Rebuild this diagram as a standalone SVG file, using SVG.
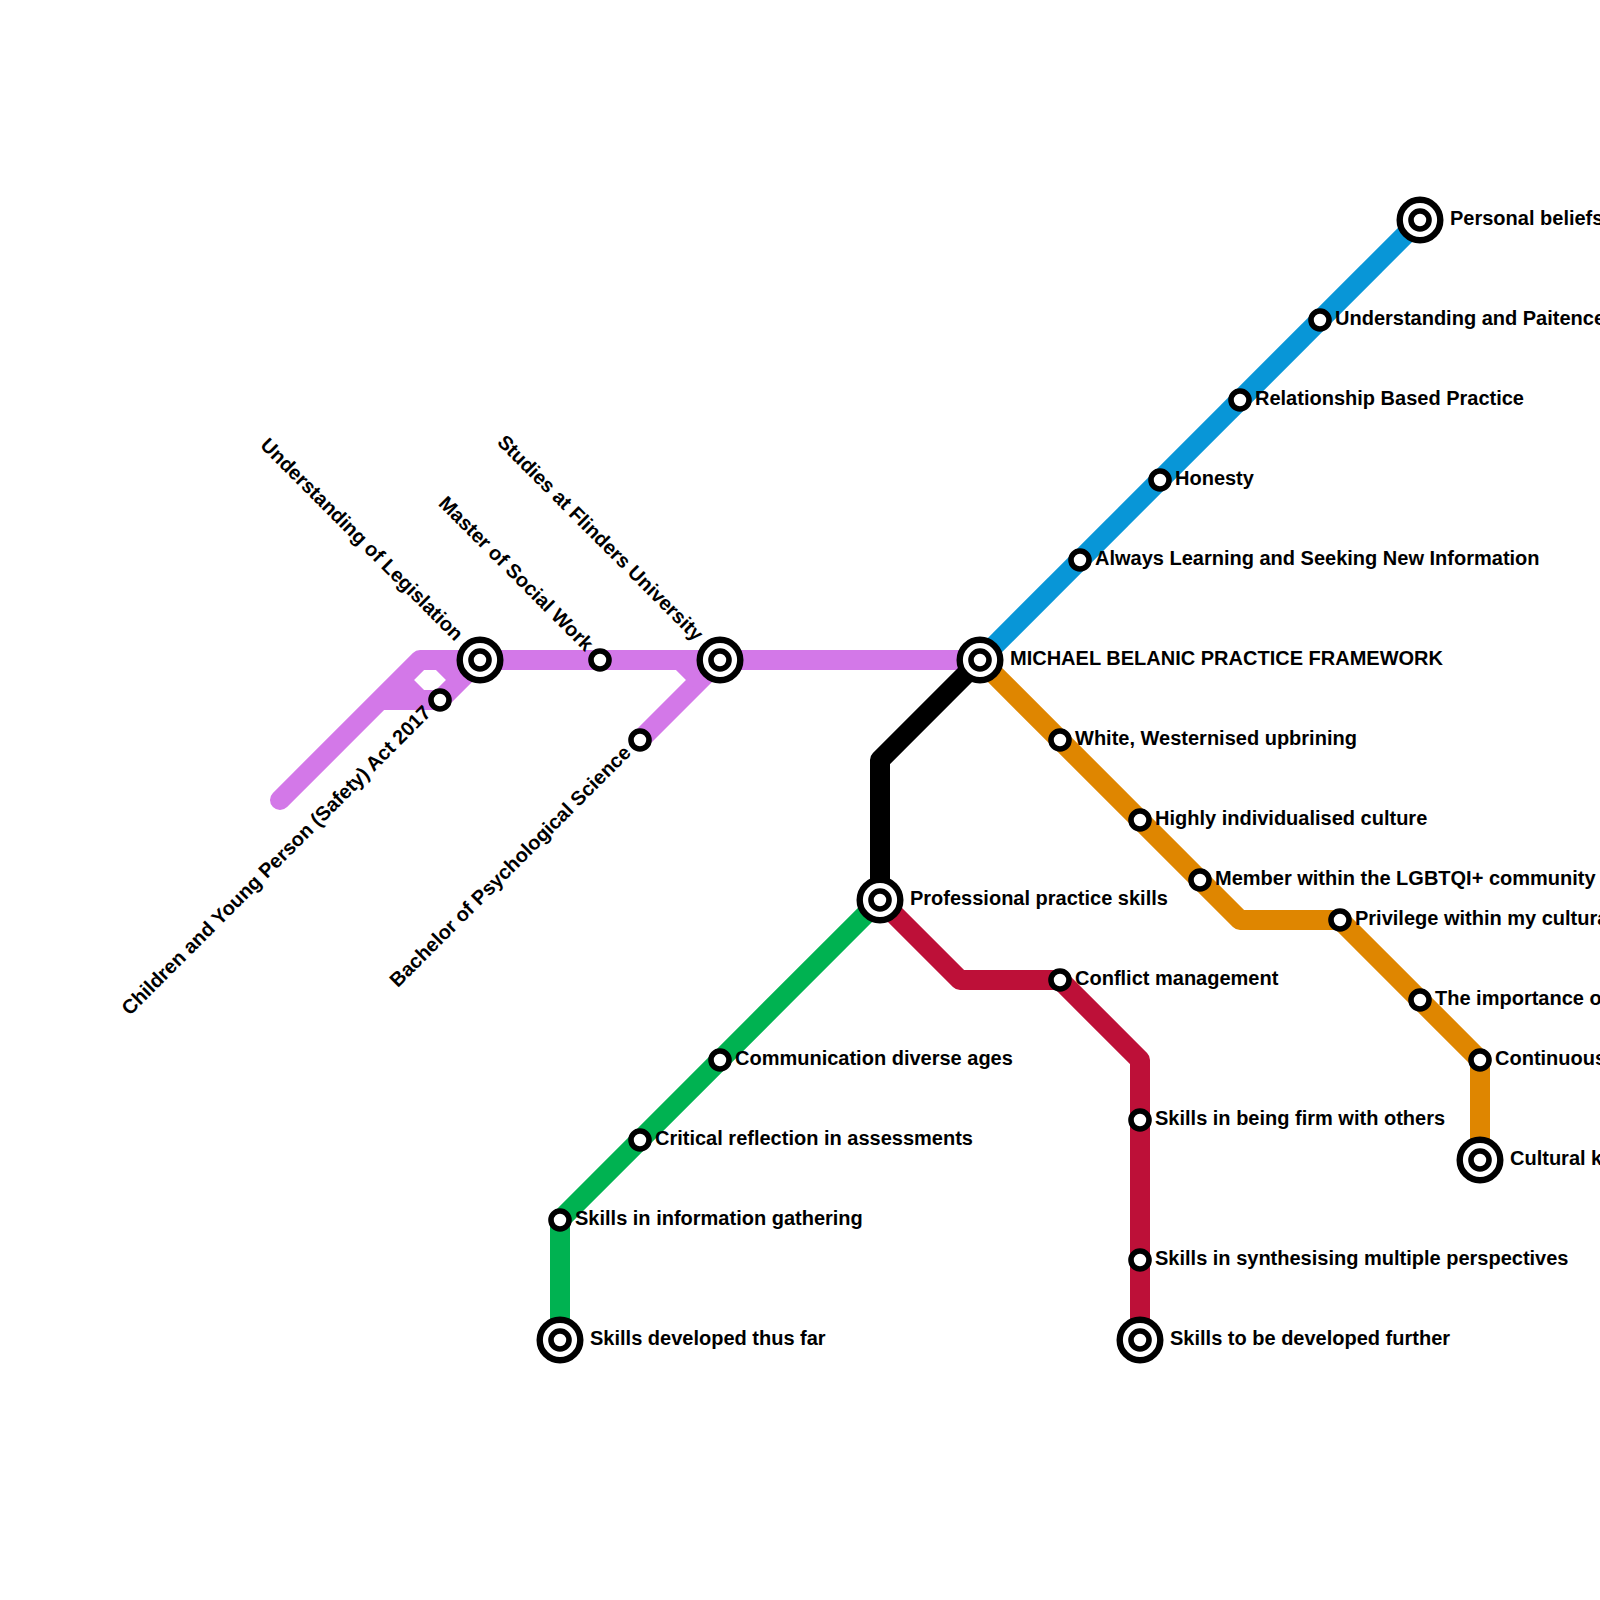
<svg xmlns="http://www.w3.org/2000/svg" width="1600" height="1600" viewBox="0 0 1600 1600">
<style>
.l{fill:none;stroke-width:20;stroke-linejoin:round;stroke-linecap:butt}
.b{fill:#fff;stroke:#000;stroke-width:6.4}
.s{fill:#fff;stroke:#000;stroke-width:5.6}
text{font-family:"Liberation Sans",Arial,sans-serif;font-weight:700;font-size:20px;fill:#000}
.e{text-anchor:end}
</style>
<rect width="1600" height="1600" fill="#fff"/>
<g id="connectors">
<g stroke="#d378e8" class="l">
<path d="M280 800L420 660H980" stroke-linecap="round"/>
<path d="M380 700H440L480 660"/>
<path d="M400 680L420 700"/>
<path d="M440 660L460 680"/>
<path d="M640 740L720 660"/>
<path d="M680 660L700 680"/>
</g>
<path class="l" stroke="#0896d7" d="M980 660L1420 220"/>
<path class="l" stroke="#df8600" d="M980 660L1240 920H1340L1480 1060V1160"/>
<path class="l" stroke="#bd1038" d="M880 900L960 980H1060L1140 1060V1340"/>
<path class="l" stroke="#00b251" d="M880 900L560 1220V1340"/>
<path class="l" stroke="#000" d="M980 660L880 760V900"/>
</g>
<g id="n1"><circle class="b" cx="980" cy="660" r="20.3"/><circle class="s" cx="980" cy="660" r="9"/><text x="1010" y="665">MICHAEL BELANIC PRACTICE FRAMEWORK</text></g>
<g id="n2"><circle class="b" cx="1420" cy="220" r="20.3"/><circle class="s" cx="1420" cy="220" r="9"/><text x="1450" y="225">Personal beliefs</text></g>
<g id="n3"><circle class="s" cx="1320" cy="320" r="9"/><text x="1335" y="325">Understanding and Paitence</text></g>
<g id="n4"><circle class="s" cx="1240" cy="400" r="9"/><text x="1255" y="405">Relationship Based Practice</text></g>
<g id="n5"><circle class="s" cx="1160" cy="480" r="9"/><text x="1175" y="485">Honesty</text></g>
<g id="n6"><circle class="s" cx="1080" cy="560" r="9"/><text x="1095" y="565">Always Learning and Seeking New Information</text></g>
<g id="n7"><circle class="s" cx="1060" cy="740" r="9"/><text x="1075" y="745">White, Westernised upbrining</text></g>
<g id="n8"><circle class="s" cx="1140" cy="820" r="9"/><text x="1155" y="825">Highly individualised culture</text></g>
<g id="n9"><circle class="s" cx="1200" cy="880" r="9"/><text x="1215" y="885">Member within the LGBTQI+ community</text></g>
<g id="n10"><circle class="s" cx="1340" cy="920" r="9"/><text x="1355" y="925">Privilege within my cultural</text></g>
<g id="n11"><circle class="s" cx="1420" cy="1000" r="9"/><text x="1435" y="1005">The importance of</text></g>
<g id="n12"><circle class="s" cx="1480" cy="1060" r="9"/><text x="1495" y="1065">Continuous</text></g>
<g id="n13"><circle class="b" cx="1480" cy="1160" r="20.3"/><circle class="s" cx="1480" cy="1160" r="9"/><text x="1510" y="1165">Cultural k</text></g>
<g id="n14"><circle class="b" cx="880" cy="900" r="20.3"/><circle class="s" cx="880" cy="900" r="9"/><text x="910" y="905">Professional practice skills</text></g>
<g id="n15"><circle class="s" cx="1060" cy="980" r="9"/><text x="1075" y="985">Conflict management</text></g>
<g id="n16"><circle class="s" cx="1140" cy="1120" r="9"/><text x="1155" y="1125">Skills in being firm with others</text></g>
<g id="n17"><circle class="s" cx="1140" cy="1260" r="9"/><text x="1155" y="1265">Skills in synthesising multiple perspectives</text></g>
<g id="n18"><circle class="b" cx="1140" cy="1340" r="20.3"/><circle class="s" cx="1140" cy="1340" r="9"/><text x="1170" y="1345">Skills to be developed further</text></g>
<g id="n19"><circle class="s" cx="720" cy="1060" r="9"/><text x="735" y="1065">Communication diverse ages</text></g>
<g id="n20"><circle class="s" cx="640" cy="1140" r="9"/><text x="655" y="1145">Critical reflection in assessments</text></g>
<g id="n21"><circle class="s" cx="560" cy="1220" r="9"/><text x="575" y="1225">Skills in information gathering</text></g>
<g id="n22"><circle class="b" cx="560" cy="1340" r="20.3"/><circle class="s" cx="560" cy="1340" r="9"/><text x="590" y="1345">Skills developed thus far</text></g>
<g id="n23"><circle class="b" cx="720" cy="660" r="20.3"/><circle class="s" cx="720" cy="660" r="9"/><text class="e" transform="translate(695 642) rotate(45)">Studies at Flinders University</text></g>
<g id="n24"><circle class="s" cx="600" cy="660" r="9"/><text class="e" transform="translate(585 652) rotate(45)">Master of Social Work</text></g>
<g id="n25"><circle class="b" cx="480" cy="660" r="20.3"/><circle class="s" cx="480" cy="660" r="9"/><text class="e" transform="translate(455 642) rotate(45)">Understanding of Legislation</text></g>
<g id="n26"><circle class="s" cx="440" cy="700" r="9"/><text class="e" transform="translate(432 714) rotate(-45)">Children and Young Person (Safety) Act 2017</text></g>
<g id="n27"><circle class="s" cx="640" cy="740" r="9"/><text class="e" transform="translate(632 754) rotate(-45)">Bachelor of Psychological Science</text></g>
</svg>
